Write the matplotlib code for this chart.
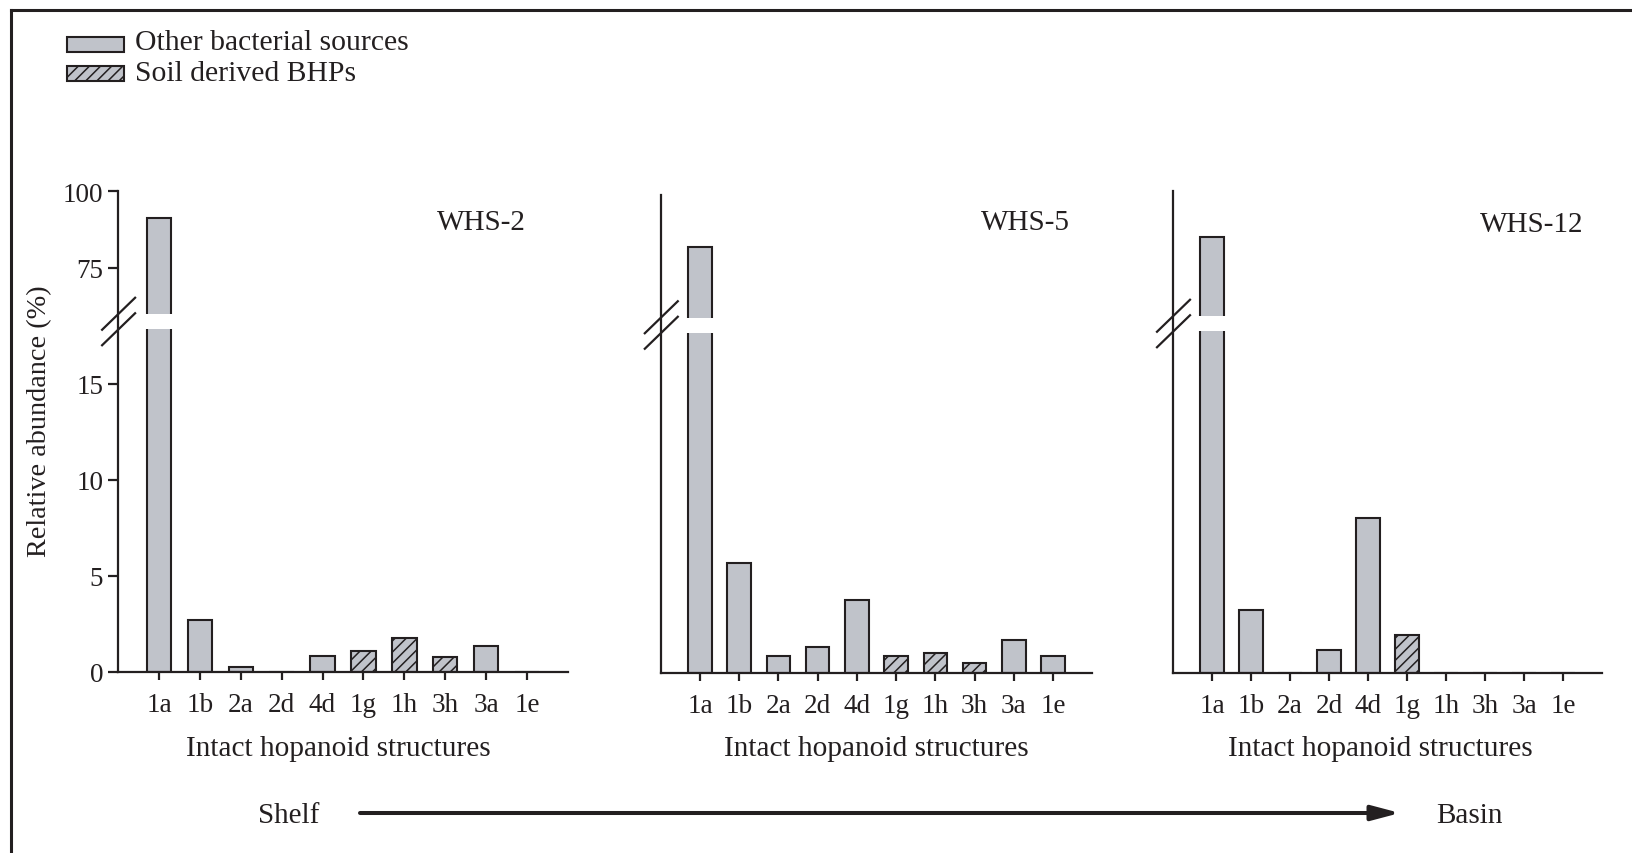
import numpy as np
import matplotlib
matplotlib.use('Agg')
import matplotlib.pyplot as plt
from matplotlib.patches import Rectangle, FancyArrowPatch
from matplotlib.lines import Line2D
import matplotlib.transforms as mtransforms

# ---------------- data ----------------
categories = ['1a', '1b', '2a', '2d', '4d', '1g', '1h', '3h', '3a', '1e']
soil_categories = ['1g', '1h', '3h']
station_names = ['WHS-2', 'WHS-5', 'WHS-12']
whs2 = [91.2, 2.70, 0.28, 0.0, 0.85, 1.11, 1.75, 0.80, 1.38, 0.0]
whs5 = [83.0, 5.73, 0.87, 1.38, 3.80, 0.90, 1.04, 0.54, 1.70, 0.87]
whs12 = [85.1, 3.28, 0.0, 1.18, 8.07, 1.97, 0.0, 0.0, 0.0, 0.0]
yticks_lower = [0, 5, 10, 15]
yticks_upper = [75, 100]
legend_labels = ['Other bacterial sources', 'Soil derived BHPs']

# ---------------- style ----------------
W, H = 1632, 854
DPI = 100
INK = '#231f20'
FILL = '#c0c3ca'
plt.rcParams['font.family'] = ['Liberation Serif', 'DejaVu Serif']
plt.rcParams['hatch.linewidth'] = 1.1
plt.rcParams['hatch.color'] = INK

fig = plt.figure(figsize=(W / DPI, H / DPI), dpi=DPI)


def fx(x):
    return x / W


def fy(y):
    return 1 - y / H


LOW_PX = 19.2   # px per unit below the break
UP_PX = 3.08    # px per unit above the break


def make_scale(b1, b2, r):
    def fwd(y):
        y = np.asarray(y, dtype=float)
        return np.where(y <= b1, y, np.where(y >= b2, b1 + (y - b2) * r, b1))

    def inv(z):
        z = np.asarray(z, dtype=float)
        return np.where(z <= b1, z, b2 + (z - b1) / r)
    return fwd, inv


# panel geometry in pixels: x-left, x-right, y-bottom(0), y-break, y-top(100)
panels = [
    dict(xl=118.1, xr=567.9, yb=673, ybrk=322.5, yt=192, vals=whs2,
         title_x=526, title_y=230, lab_x=338, ticks=True),
    dict(xl=660.8, xr=1092.2, yb=674, ybrk=326, yt=196, vals=whs5,
         title_x=1070, title_y=230, lab_x=876, ticks=False),
    dict(xl=1173, xr=1602, yb=674, ybrk=324.5, yt=192, vals=whs12,
         title_x=1583, title_y=232, lab_x=1380, ticks=False),
]

bar_w = 0.6
x = np.arange(len(categories))

for i, p in enumerate(panels):
    ax = fig.add_axes([fx(p['xl']), fy(p['yb']), (p['xr'] - p['xl']) / W,
                       (p['yb'] - p['yt']) / H])
    b1 = (p['yb'] - p['ybrk']) / LOW_PX
    b2 = 100 - (p['ybrk'] - p['yt']) / UP_PX
    fwd, inv = make_scale(b1, b2, UP_PX / LOW_PX)
    ax.set_yscale('function', functions=(fwd, inv))
    ax.set_ylim(0, 100)
    ax.set_xlim(-1, len(categories))

    vals = p['vals']
    for xi, cat, v in zip(x, categories, vals):
        hatch = '///' if cat in soil_categories else None
        ax.bar(xi, v, width=bar_w, color=FILL, edgecolor=INK, linewidth=1.5,
               hatch=hatch, zorder=2)

    # white gap through the tall bar
    trans = mtransforms.blended_transform_factory(ax.transData, fig.transFigure)
    for xi, v in zip(x, vals):
        if v > b2:
            ax.add_patch(Rectangle((xi - bar_w / 2 - 0.06, fy(p['ybrk'] + 7.5)),
                                   bar_w + 0.12, 15 / H, transform=trans,
                                   facecolor='white', edgecolor='none',
                                   zorder=4, clip_on=False))

    for s in ['top', 'right']:
        ax.spines[s].set_visible(False)
    for s in ['left', 'bottom']:
        ax.spines[s].set_linewidth(1.6)
        ax.spines[s].set_color(INK)

    ax.set_xticks(x)
    ax.set_xticklabels(categories)
    ax.tick_params(axis='x', direction='out', length=5.8, width=1.6,
                   color=INK, labelcolor=INK, labelsize=19.5, pad=8.5)
    ax.minorticks_off()
    if p['ticks']:
        ax.set_yticks(yticks_lower + yticks_upper)
        ax.set_yticklabels([str(t) for t in yticks_lower + yticks_upper])
        ax.tick_params(axis='y', direction='out', length=7.2, width=1.6,
                       color=INK, labelcolor=INK, labelsize=19.5, pad=3.5)
    else:
        ax.set_yticks([])
    ax.patch.set_visible(False)

    # break marks
    cx = p['xl'] + 0.5
    for cy in (p['ybrk'] - 7.75, p['ybrk'] + 7.75):
        fig.add_artist(Line2D([fx(cx - 16.5), fx(cx + 16.5)],
                              [fy(cy + 16), fy(cy - 16)],
                              transform=fig.transFigure, color=INK, lw=1.6))

    fig.text(fx(p['title_x']), fy(p['title_y']), station_names[i],
             ha='right', va='baseline', fontsize=21, color=INK)
    fig.text(fx(p['lab_x']), fy(756), 'Intact hopanoid structures',
             ha='center', va='baseline', fontsize=21.2, color=INK)

# y label
fig.text(fx(40), fy(421), 'Relative abundance (%)', rotation=90,
         ha='center', va='center', fontsize=20.3, color=INK)

# legend
leg_boxes = [(67, 38), (67, 67)]
leg_hatch = [None, '///']
leg_base = [50, 81]
for (lx, ly), h, lab, bl in zip(leg_boxes, leg_hatch, legend_labels, leg_base):
    fig.add_artist(Rectangle((fx(lx), fy(ly + 15)), 57 / W, 15 / H,
                             transform=fig.transFigure, facecolor=FILL,
                             edgecolor=INK, linewidth=1.5, hatch=h))
    fig.text(fx(135), fy(bl), lab, ha='left', va='baseline', fontsize=21.3,
             color=INK)

# shelf -> basin arrow
arrow = FancyArrowPatch((fx(360), fy(814)), (fx(1400), fy(814)),
                        transform=fig.transFigure,
                        arrowstyle='-|>,head_length=17,head_width=4.5',
                        mutation_scale=1, lw=2.9, color=INK,
                        shrinkA=0, shrinkB=0)
fig.add_artist(arrow)
fig.text(fx(289), fy(823), 'Shelf', ha='center', va='baseline', fontsize=21,
         color=INK)
fig.text(fx(1469), fy(823), 'Basin', ha='center', va='baseline', fontsize=21,
         color=INK)

# outer frame (left and top edges visible)
fig.add_artist(Line2D([fx(11), fx(11)], [fy(10.5), fy(H + 5)],
                      transform=fig.transFigure, color=INK, lw=2.2))
fig.add_artist(Line2D([fx(11), fx(W + 5)], [fy(10.5), fy(10.5)],
                      transform=fig.transFigure, color=INK, lw=2.2))

fig.savefig('out.png', dpi=DPI)
